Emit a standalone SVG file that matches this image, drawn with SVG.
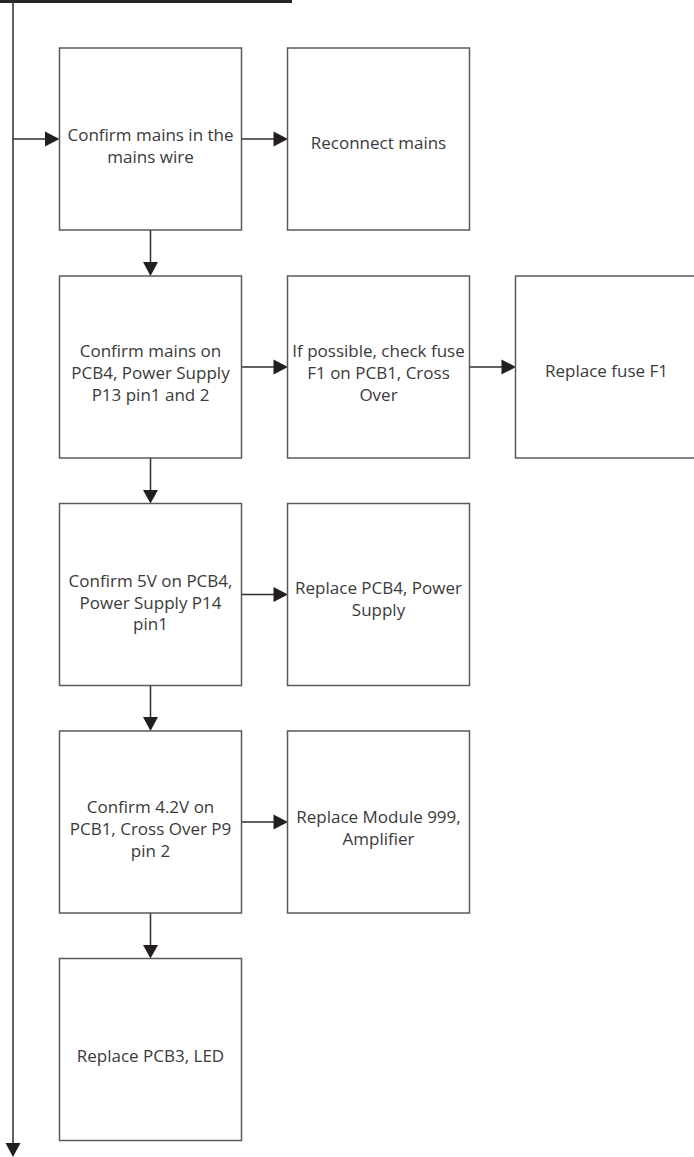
<svg xmlns="http://www.w3.org/2000/svg" width="694" height="1157" viewBox="0 0 694 1157">
<style>
.box{fill:#fff;stroke:#5a5a5a;stroke-width:1.5}
.ln{fill:none;stroke:#2e2e2e;stroke-width:1.5}
.hd{fill:#231f20;stroke:none}
text{font-family:"Open Sans","Noto Sans","Liberation Sans",sans-serif;font-size:17px;fill:#3a3a3a;text-anchor:middle}
</style>
<rect width="694" height="1157" fill="#fff"/>
<g id="connectors">
<rect x="0" y="0" width="292" height="3" fill="#262626"/>
<line class="ln" x1="13" y1="0" x2="13" y2="1144" stroke-width="2"/>
<polygon class="hd" points="5.5,1143 20.5,1143 13,1157"/>
<line class="ln" x1="13" y1="139" x2="46" y2="139"/>
<polygon class="hd" points="45,131.5 59.5,139 45,146.5"/>
<line class="ln" x1="241.5" y1="139" x2="274" y2="139"/>
<polygon class="hd" points="273.5,131.5 288,139 273.5,146.5"/>
<line class="ln" x1="241.5" y1="367" x2="274" y2="367"/>
<polygon class="hd" points="273.5,359.5 288,367 273.5,374.5"/>
<line class="ln" x1="469.5" y1="367" x2="502" y2="367"/>
<polygon class="hd" points="501.5,359.5 516,367 501.5,374.5"/>
<line class="ln" x1="241.5" y1="594.5" x2="274" y2="594.5"/>
<polygon class="hd" points="273.5,587 288,594.5 273.5,602"/>
<line class="ln" x1="241.5" y1="822" x2="274" y2="822"/>
<polygon class="hd" points="273.5,814.5 288,822 273.5,829.5"/>
<line class="ln" x1="150.5" y1="230" x2="150.5" y2="263"/>
<polygon class="hd" points="143,262 158,262 150.5,276"/>
<line class="ln" x1="150.5" y1="458" x2="150.5" y2="491"/>
<polygon class="hd" points="143,490 158,490 150.5,503.5"/>
<line class="ln" x1="150.5" y1="685.5" x2="150.5" y2="718"/>
<polygon class="hd" points="143,717 158,717 150.5,731"/>
<line class="ln" x1="150.5" y1="913" x2="150.5" y2="946"/>
<polygon class="hd" points="143,945 158,945 150.5,958.5"/>
</g>
<g id="n1"><rect class="box" x="59.5" y="48" width="182" height="182"/>
<text x="150.5" y="141">Confirm mains in the</text><text x="150.5" y="163">mains wire</text></g>
<g id="n2"><rect class="box" x="287.5" y="48" width="182" height="182"/>
<text x="378.5" y="149">Reconnect mains</text></g>
<g id="n3"><rect class="box" x="59.5" y="276" width="182" height="182"/>
<text x="150.5" y="356.5">Confirm mains on</text><text x="150.5" y="378.5">PCB4, Power Supply</text><text x="150.5" y="400.5">P13 pin1 and 2</text></g>
<g id="n4"><rect class="box" x="287.5" y="276" width="182" height="182"/>
<text x="378.5" y="356.5">If possible, check fuse</text><text x="378.5" y="378.5">F1 on PCB1, Cross</text><text x="378.5" y="400.5">Over</text></g>
<g id="n5"><rect class="box" x="515.5" y="276" width="182" height="182"/>
<text x="606.5" y="377">Replace fuse F1</text></g>
<g id="n6"><rect class="box" x="59.5" y="503.5" width="182" height="182"/>
<text x="150.5" y="587">Confirm 5V on PCB4,</text><text x="150.5" y="608.5">Power Supply P14</text><text x="150.5" y="630">pin1</text></g>
<g id="n7"><rect class="box" x="287.5" y="503.5" width="182" height="182"/>
<text x="378.5" y="594">Replace PCB4, Power</text><text x="378.5" y="616">Supply</text></g>
<g id="n8"><rect class="box" x="59.5" y="731" width="182" height="182"/>
<text x="150.5" y="813">Confirm 4.2V on</text><text x="150.5" y="835">PCB1, Cross Over P9</text><text x="150.5" y="857">pin 2</text></g>
<g id="n9"><rect class="box" x="287.5" y="731" width="182" height="182"/>
<text x="378.5" y="823">Replace Module 999,</text><text x="378.5" y="845">Amplifier</text></g>
<g id="n10"><rect class="box" x="59.5" y="958.5" width="182" height="182"/>
<text x="150.5" y="1061.5">Replace PCB3, LED</text></g>
</svg>
